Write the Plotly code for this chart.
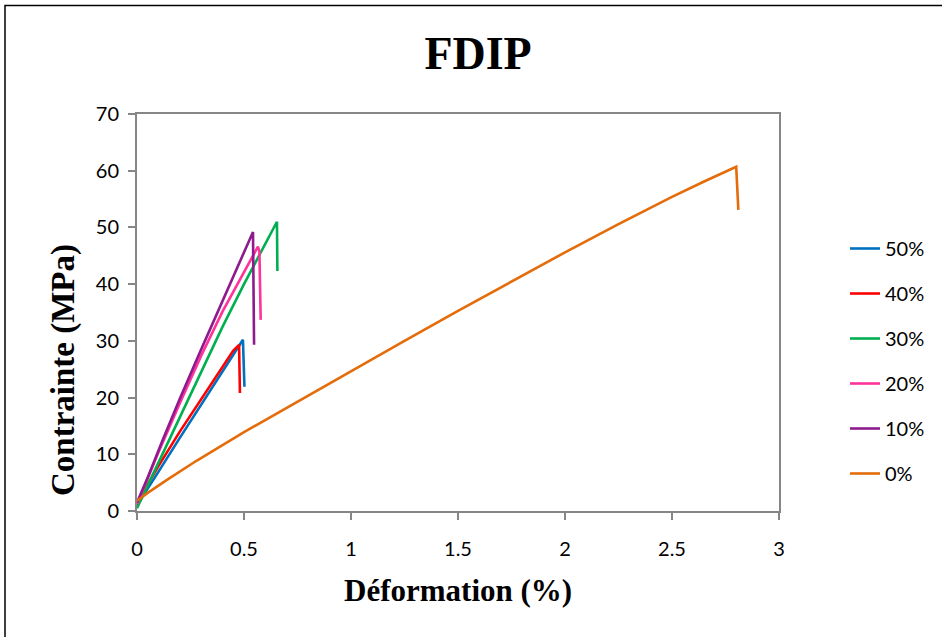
import plotly.graph_objects as go

# ---- data ----
names = ["50%", "40%", "30%", "20%", "10%", "0%"]
colors = ["#0070C0", "#FF0000", "#00B050", "#FF3399", "#8E1B8E", "#E46C0A"]

x50 = [0, 0.05, 0.1, 0.2, 0.3, 0.4, 0.46, 0.495, 0.502]
y50 = [1.0, 3.9, 6.9, 12.9, 18.8, 24.5, 28.0, 30.2, 21.9]

x40 = [0, 0.05, 0.1, 0.2, 0.3, 0.4, 0.45, 0.477, 0.481]
y40 = [1.5, 4.8, 7.9, 14.0, 19.8, 25.4, 28.3, 29.3, 20.8]

x30 = [0, 0.1, 0.2, 0.3, 0.4, 0.5, 0.6, 0.654, 0.656]
y30 = [0.5, 8.5, 16.6, 24.6, 32.5, 40.0, 47.0, 51.0, 42.3]

x20 = [0, 0.1, 0.2, 0.3, 0.4, 0.5, 0.565, 0.572, 0.578]
y20 = [1.2, 10.3, 19.0, 27.4, 35.2, 42.0, 46.6, 45.8, 33.7]

x10 = [0, 0.05, 0.121, 0.2, 0.3, 0.4, 0.47, 0.542, 0.547]
y10 = [1.5, 5.9, 12.6, 19.8, 28.5, 37.0, 43.2, 49.2, 29.3]

x0 = [0, 0.05, 0.14, 0.28, 0.5, 0.75, 1.0, 1.25, 1.5, 1.75, 2.0, 2.25, 2.5, 2.65, 2.8, 2.81]
y0 = [1.8, 3.2, 5.5, 8.9, 13.9, 19.3, 24.7, 30.0, 35.3, 40.5, 45.6, 50.6, 55.4, 58.1, 60.7, 53.1]

xs = [x50, x40, x30, x20, x10, x0]
ys = [y50, y40, y30, y20, y10, y0]

x_ticks = [0, 0.5, 1, 1.5, 2, 2.5, 3]
y_ticks = [0, 10, 20, 30, 40, 50, 60, 70]

title_text = "FDIP"
x_title = "Déformation (%)"
y_title = "Contrainte (MPa)"

# ---- figure ----
fig = go.Figure()
for n, c, x, y in zip(names, colors, xs, ys):
    fig.add_trace(go.Scatter(x=x, y=y, mode="lines", name=n, legendgroup=n,
                             line=dict(color=c, width=2.6)))

W, H = 942, 637
L, R, T, B = 137, 779, 114, 511
pw, ph = R - L, B - T

def px(xp):
    return (xp - L) / pw

def py(yp):
    return (B - yp) / ph

tickfont = dict(family="Lato, 'Liberation Sans', sans-serif", size=20, color="#000000")
serif = "'Liberation Serif', 'Times New Roman', serif"

fig.update_layout(
    width=W, height=H,
    margin=dict(l=L, r=W - R, t=T, b=H - B, pad=0),
    paper_bgcolor="white", plot_bgcolor="white",
    title=dict(text="<b>%s</b>" % title_text, x=0.5075, xanchor="center", xref="container",
               y=1 - 53 / H, yanchor="middle", yref="container",
               font=dict(family=serif, size=46, color="#000000")),
    xaxis=dict(range=[0, 3], tickvals=x_ticks, ticktext=[str(v) for v in x_ticks],
               showgrid=False, zeroline=False, showline=True, mirror=True,
               linecolor="#868686", linewidth=2, ticks="outside", ticklen=7,
               tickcolor="#868686", tickwidth=2, tickfont=tickfont, ticklabelstandoff=12),
    yaxis=dict(range=[0, 70], tickvals=y_ticks, ticktext=[str(v) for v in y_ticks],
               showgrid=False, zeroline=False, showline=True, mirror=True,
               linecolor="#868686", linewidth=2, ticks="outside", ticklen=7,
               tickcolor="#868686", tickwidth=2, tickfont=tickfont, ticklabelstandoff=5),
    legend=dict(x=px(845), xanchor="left", y=py(229), yanchor="top",
                font=tickfont, tracegroupgap=16, bgcolor="rgba(0,0,0,0)",
                traceorder="grouped"),
    showlegend=True,
)

fig.add_annotation(text="<b>%s</b>" % y_title, xref="paper", yref="paper",
                   x=px(63), y=py(370), textangle=-90, showarrow=False,
                   xanchor="center", yanchor="middle",
                   font=dict(family=serif, size=33, color="#000000"))
fig.add_annotation(text="<b>%s</b>" % x_title, xref="paper", yref="paper",
                   x=px(457.5), y=py(590), showarrow=False,
                   xanchor="center", yanchor="middle",
                   font=dict(family=serif, size=31, color="#000000"))

fig.add_shape(type="rect", xref="paper", yref="paper",
              x0=px(5), x1=px(960), y0=py(660), y1=py(5.5),
              line=dict(color="#000000", width=1.5), fillcolor="rgba(0,0,0,0)", layer="below")

fig.write_html("out.html", config={"displayModeBar": False},
               post_script="document.body.style.margin='0';document.body.style.overflow='hidden';")
